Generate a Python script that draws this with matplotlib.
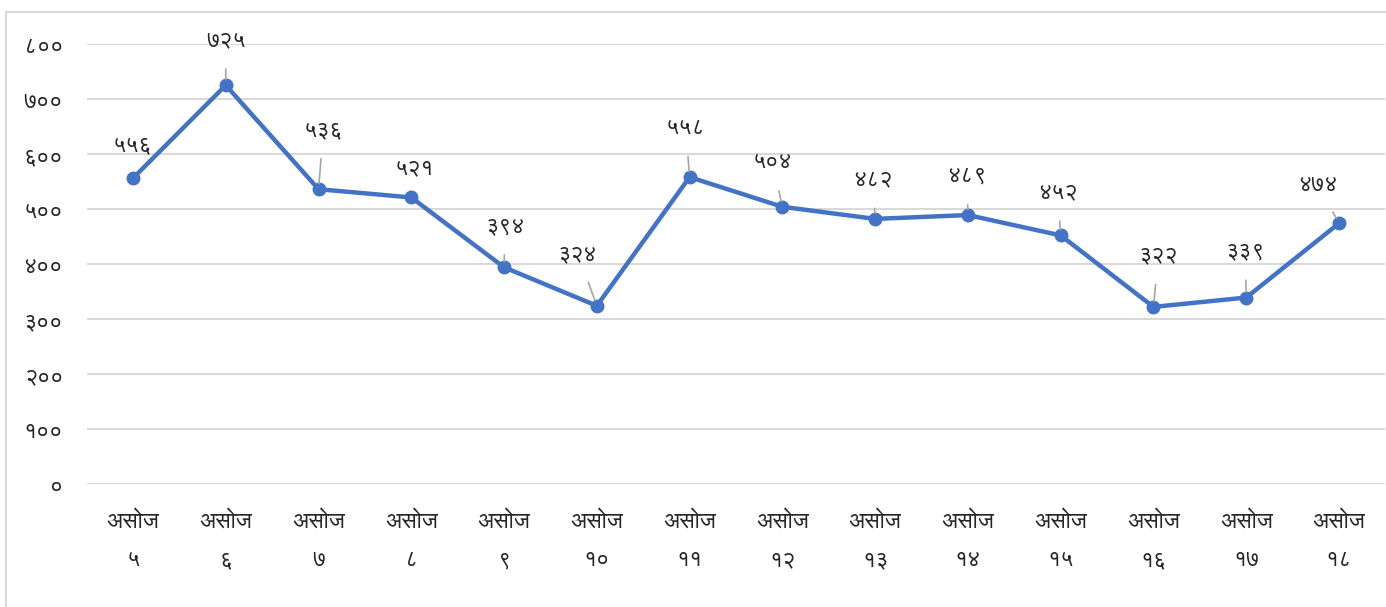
import matplotlib
matplotlib.use("Agg")
import matplotlib.pyplot as plt
from matplotlib.patches import Rectangle

# ---- data ----
category_words = ["असोज"] * 14
category_days = ["५", "६", "७", "८", "९", "१०", "११", "१२", "१३", "१४", "१५", "१६", "१७", "१८"]
values = [556, 725, 536, 521, 394, 324, 558, 504, 482, 489, 452, 322, 339, 474]
value_labels = ["५५६", "७२५", "५३६", "५२१", "३९४", "३२४", "५५८", "५०४", "४८२", "४८९", "४५२", "३२२", "३३९", "४७४"]
yticks = [0, 100, 200, 300, 400, 500, 600, 700, 800]
ytick_labels = ["०", "१००", "२००", "३००", "४००", "५००", "६००", "७००", "८००"]

# label placement: offsets in pixels (dx, dy) from the point, and whether a leader line is drawn
label_offsets = [(0, 34), (0, 46), (5, 60), (3, 30), (1, 42), (-19, 52), (-4, 50),
                 (-10, 45), (-2, 40), (-1, 40), (-3, 44), (5, 52), (-1, 47), (-21, 39)]
leaders = [False, True, True, False, True, True, True, True, True, True, True, True, True, True]

WORD_FONT = ["FreeSans", "DejaVu Sans"]
NUM_FONT = ["FreeSans", "DejaVu Sans"]
plt.rcParams["font.family"] = NUM_FONT

W, H = 1386, 607
fig = plt.figure(figsize=(W / 100, H / 100), dpi=100)

# outer chart border
fig.patches.append(Rectangle((6 / W, -0.05), 1.2, 1 - 12 / H + 0.05, transform=fig.transFigure,
                             fill=False, edgecolor="#D9D9D9", linewidth=1.5))

left, right = 86.6, 1385.4
bottom_px, top_px = 484, 44
ax = fig.add_axes([left / W, 1 - bottom_px / H, (right - left) / W, (bottom_px - top_px) / H])

x = list(range(len(values)))
ax.plot(x, values, color="#4472C4", linewidth=3.2, marker="o", markersize=9,
        markerfacecolor="#4472C4", markeredgecolor="#4472C4", zorder=3, clip_on=False)

ax.set_xlim(-0.5, len(values) - 0.5)
ax.set_ylim(0, 800)
ax.set_yticks(yticks)
ax.set_yticklabels(ytick_labels, fontsize=16.5, color="#262626", family=NUM_FONT)
ax.set_xticks(x)
ax.set_xticklabels([""] * len(x))
ax.tick_params(axis="both", length=0)
ax.tick_params(axis="y", pad=17)
ax.grid(axis="y", color="#D9D9D9", linewidth=1.5)
ax.set_axisbelow(True)
for s in ax.spines.values():
    s.set_visible(False)

# two-line category labels
for xi, w, d in zip(x, category_words, category_days):
    ax.annotate(w, xy=(xi, 0), xycoords=("data", "axes fraction"), xytext=(0, -37),
                textcoords="offset pixels", ha="center", va="center", fontsize=16.5,
                color="#262626", family=WORD_FONT)
    ax.annotate(d, xy=(xi, 0), xycoords=("data", "axes fraction"), xytext=(0, -76),
                textcoords="offset pixels", ha="center", va="center", fontsize=16.5,
                color="#262626", family=NUM_FONT)

for xi, v, lab, (dx, dy), ld in zip(x, values, value_labels, label_offsets, leaders):
    ax.annotate(lab, xy=(xi, v), xytext=(dx, dy), textcoords="offset pixels",
                ha="center", va="center", fontsize=16.5, color="#262626", family=NUM_FONT,
                arrowprops=dict(arrowstyle="-", color="#A6A6A6", linewidth=1.2,
                                shrinkA=11, shrinkB=4) if ld else None)

fig.savefig("out.png", dpi=100)
